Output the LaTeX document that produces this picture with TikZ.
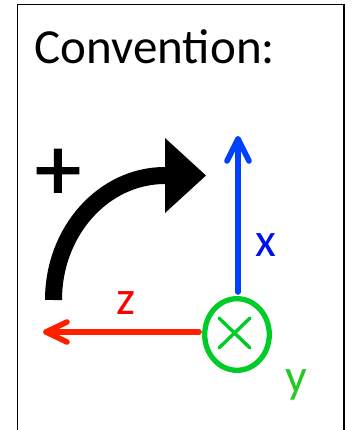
\documentclass[tikz,border=0pt]{standalone}
\usepackage{fontspec}
\setmainfont{Carlito}
\newfontfamily\plusfont[FakeBold=1.6]{Carlito}
\definecolor{axblue}{RGB}{0,64,255}
\definecolor{axred}{RGB}{255,32,0}
\definecolor{axgreen}{RGB}{0,204,40}
\definecolor{txblue}{RGB}{0,16,235}
\definecolor{txred}{RGB}{255,0,0}
\definecolor{txgreen}{RGB}{40,200,40}
\begin{document}
\begin{tikzpicture}[x=1pt,y=-1pt,
  lbl/.style={inner sep=0pt,anchor=base west,font=\fontsize{48}{56}\selectfont},
  axis/.style={line width=5.6pt,line cap=round,line join=round}]
\useasboundingbox (0,0) rectangle (354,430);
\clip (0,0) rectangle (354,430);
\draw[line width=1.4pt] (17.5,4.7) rectangle (344,445);
\node[lbl,font=\fontsize{49}{58}\selectfont] (title) at (34.5,63.3) {Convention:};
% rotation arrow
\node[inner sep=0pt,anchor=base,font=\plusfont\fontsize{91}{95}\selectfont] (plus) at (58,199.5) {+};
\coordinate (rb) at (53.5,300);
\coordinate (rh) at (166,175.5);
\draw[line width=17pt] (rb) arc[start angle=180,end angle=270,x radius=111.5,y radius=124.5] -- (rh);
\fill (165,138) -- (206,175.5) -- (165,213) -- cycle;
% axes
\coordinate (o) at (237,334.5);
\coordinate (xt) at (238,139);
\coordinate (zt) at (46,332);
\draw[axis,axblue] (238,292) -- (xt);
\draw[axis,axblue] (227,161) -- (xt) -- (249,161);
\draw[axis,axred] (199,332) -- (zt);
\draw[axis,axred] (67,322) -- (zt) -- (67,342);
\draw[axgreen,line width=5.3pt] (o) ellipse[x radius=32.3,y radius=35.8];
\draw[axgreen,line width=3.4pt,line cap=round] (219,318) -- (250,348) (250,318) -- (219,348);
\node[lbl,txblue] (xl) at (255.5,256) {x};
\node[lbl,txred] (zl) at (116,314) {z};
\node[lbl,txgreen] (yl) at (285,392) {y};
\end{tikzpicture}
\end{document}
